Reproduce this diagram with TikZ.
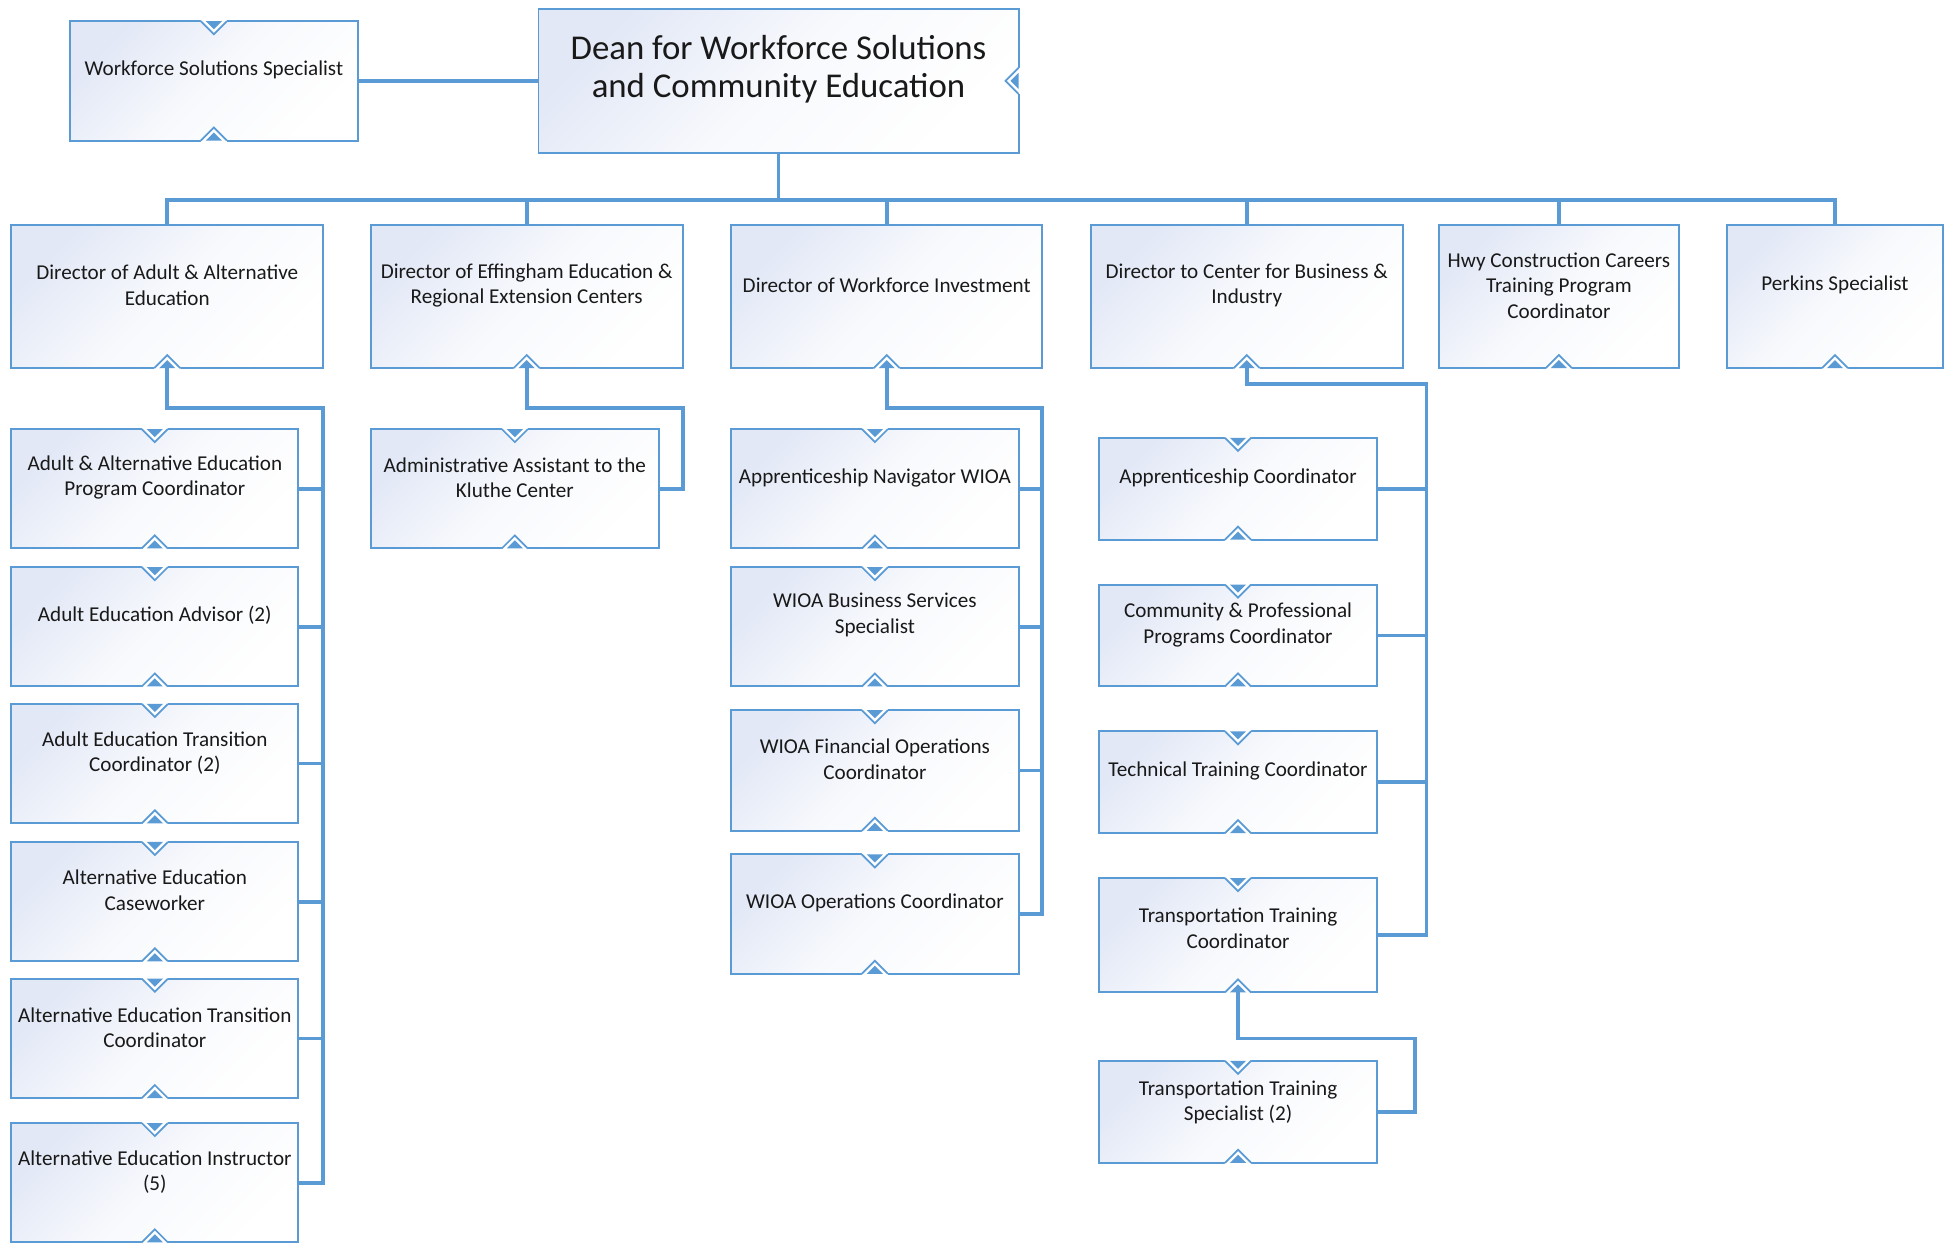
\documentclass[tikz,border=0pt]{standalone}
\usepackage{fontspec}
\setmainfont{Carlito}
\definecolor{orgblue}{RGB}{91,155,213}
\definecolor{orgfill}{RGB}{226,232,246}
\definecolor{orgink}{RGB}{25,25,25}

% box with a label: name, left, top, right, bottom, text centre y, text
\newcommand\orgunit[7]{%
  \node[orgbox, minimum width={#4-#2}, minimum height={#5-#3}] (#1) at ({(#2+#4)/2},{(#3+#5)/2}) {};
  \node[orgtext] (#1-t) at ({(#2+#4)/2},{#6+1}) {#7};}

% small notch marker on a box edge: point, rotation
\newcommand\notch[2]{%
  \begin{scope}[shift={(#1)}, rotate=#2]
    \fill[white] (-10.5,-1.2) -- (-10.5,0) -- (0,10.5) -- (10.5,0) -- (10.5,-1.2) -- cycle;
    \draw[orgblue, line width=1.4pt, line join=miter] (-10.5,0) -- (0,10.5) -- (10.5,0);
    \fill[orgblue] (-6.5,0) -- (0,6.5) -- (6.5,0) -- cycle;
  \end{scope}}

\begin{document}
\begin{tikzpicture}[x=1pt, y=-1pt,
  orgbox/.style={draw=orgblue, line width=1.6pt, top color=orgfill, bottom color=white,
    middle color=orgfill!25!white, shading angle=45, inner sep=0pt, outer sep=0pt},
  orgtext/.style={align=center, inner sep=0pt, text=orgink,
    font=\fontsize{17}{20.5}\selectfont},
  link/.style={draw=orgblue, line width=3pt, line join=miter}]

\useasboundingbox (0,0) rectangle (1568,1002);

% top level
\node[orgbox, minimum width=386, minimum height=116] (dean) at (626,65) {};
\node[orgtext, font=\fontsize{28}{31}\selectfont] (dean-t) at (626,55.5)
  {Dean for Workforce Solutions\\and Community Education};
\orgunit{wss}{56}{17}{288}{113}{55}{Workforce Solutions Specialist}

% directors
\orgunit{d1}{9}{181}{260}{296}{228.5}{Director of Adult \& Alternative\\Education}
\orgunit{d2}{298}{181}{549}{296}{228.5}{Director of Effingham Education \&\\Regional Extension Centers}
\orgunit{d3}{588}{181}{838}{296}{228}{Director of Workforce Investment}
\orgunit{d4}{877}{181}{1128}{296}{228.5}{Director to Center for Business \&\\Industry}
\orgunit{d5}{1157}{181}{1350}{296}{228.5}{Hwy Construction Careers\\Training Program\\Coordinator}
\orgunit{d6}{1389}{181}{1562}{296}{228}{Perkins Specialist}

% adult & alternative education
\orgunit{a1}{9}{345}{240}{441}{383}{Adult \& Alternative Education\\Program Coordinator}
\orgunit{a2}{9}{456}{240}{552}{494}{Adult Education Advisor (2)}
\orgunit{a3}{9}{566}{240}{662}{604.5}{Adult Education Transition\\Coordinator (2)}
\orgunit{a4}{9}{677}{240}{773}{715}{Alternative Education\\Caseworker}
\orgunit{a5}{9}{787}{240}{883}{825.5}{Alternative Education Transition\\Coordinator}
\orgunit{a6}{9}{903}{240}{999}{941.5}{Alternative Education Instructor\\(5)}

% Effingham
\orgunit{b1}{298}{345}{530}{441}{383}{Administrative Assistant to the\\Kluthe Center}

% workforce investment
\orgunit{c1}{588}{345}{819}{441}{383}{Apprenticeship Navigator WIOA}
\orgunit{c2}{588}{456}{819}{552}{493.5}{WIOA Business Services\\Specialist}
\orgunit{c3}{588}{571}{819}{668}{609.5}{WIOA Financial Operations\\Coordinator}
\orgunit{c4}{588}{687}{819}{783}{725}{WIOA Operations Coordinator}

% business & industry
\orgunit{e1}{884}{352}{1107}{434}{383}{Apprenticeship Coordinator}
\orgunit{e2}{884}{470}{1107}{552}{501.5}{Community \& Professional\\Programs Coordinator}
\orgunit{e3}{884}{588}{1107}{670}{619}{Technical Training Coordinator}
\orgunit{e4}{884}{706}{1107}{798}{745.5}{Transportation Training\\Coordinator}
\orgunit{e5}{884}{853}{1107}{935}{885.5}{Transportation Training\\Specialist (2)}

% notch markers
\notch{dean.east}{-90}
\foreach \n in {wss,a1,a2,a3,a4,a5,a6,b1,c1,c2,c3,c4,e1,e2,e3,e4,e5}{\notch{\n.north}{0}}
\foreach \n in {wss,d1,d2,d3,d4,d5,d6,a1,a2,a3,a4,a5,a6,b1,c1,c2,c3,c4,e1,e2,e3,e4,e5}{\notch{\n.south}{180}}

% connectors
\coordinate (bus) at (0,161);
\coordinate (j1) at (260,328);
\coordinate (j2) at (549,328);
\coordinate (j3) at (838,328);
\coordinate (j4) at (1147,309);
\coordinate (j5) at (1138,835);

\draw[link] (wss.east) -- (wss.east -| dean.west);
\draw[link] (dean.south) -- (dean.south |- bus);
\draw[link] (d1.north) -- (d1.north |- bus) -- (d6.north |- bus) -- (d6.north);
\foreach \n in {d2,d3,d4,d5}{\draw[link] (\n.north) -- (\n.north |- bus);}

\draw[link] (d1.south) |- (j1) |- (a6.east);
\foreach \n in {a1,a2,a3,a4,a5}{\draw[link] (\n.east) -- (\n.east -| j1);}

\draw[link] (d2.south) |- (j2) |- (b1.east);

\draw[link] (d3.south) |- (j3) |- (c4.east);
\foreach \n in {c1,c2,c3}{\draw[link] (\n.east) -- (\n.east -| j3);}

\draw[link] (d4.south) |- (j4) |- (e4.east);
\foreach \n in {e1,e2,e3}{\draw[link] (\n.east) -- (\n.east -| j4);}

\draw[link] (e5.east) -| (j5) -| (e4.south);
\end{tikzpicture}
\end{document}
